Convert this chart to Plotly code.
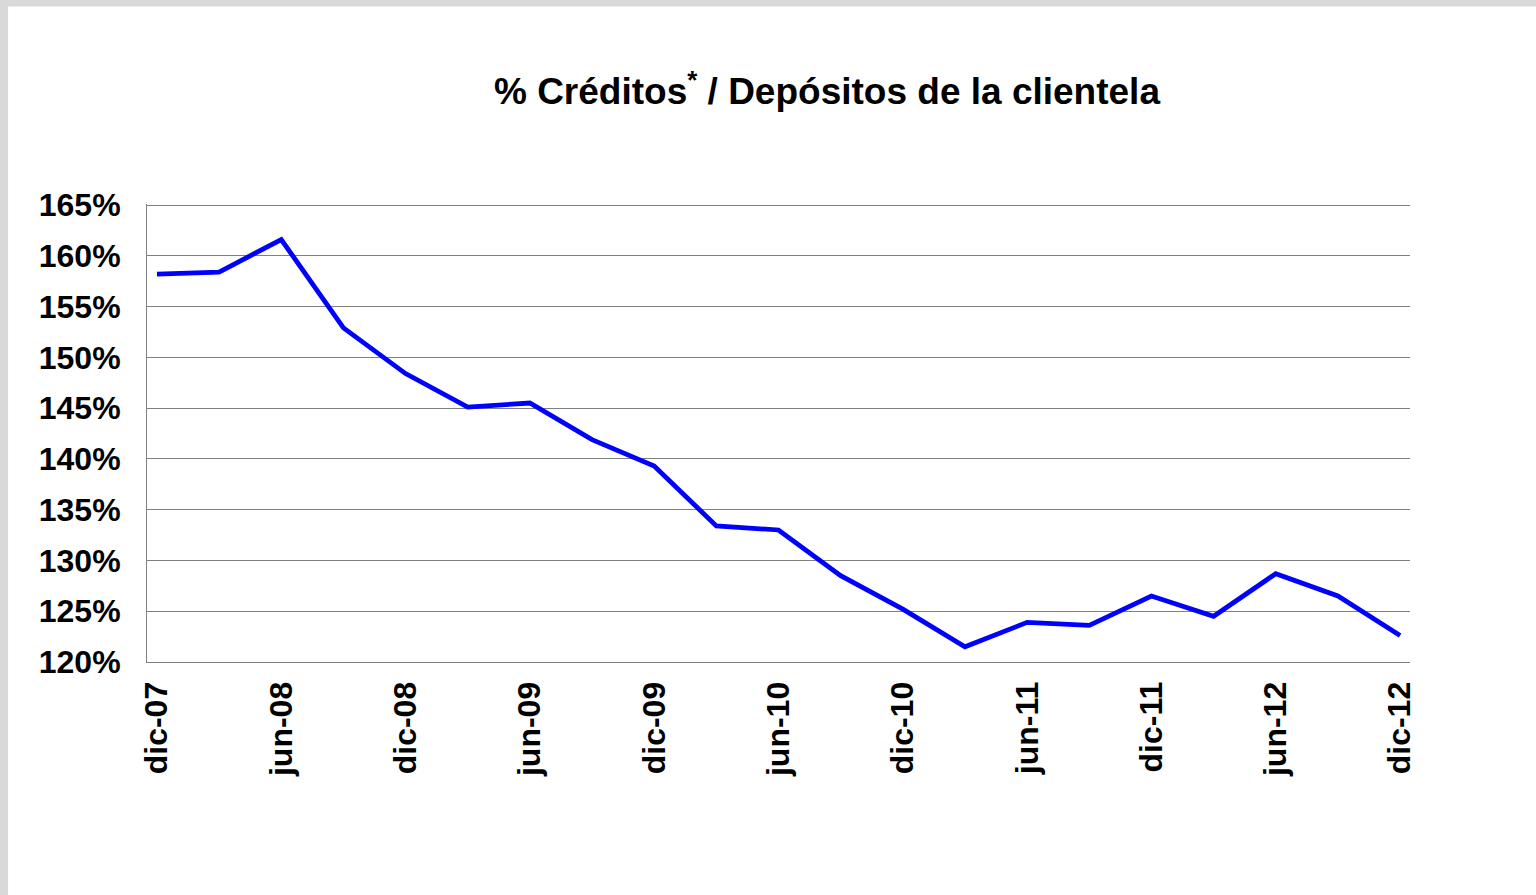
import plotly.graph_objects as go

# trimestres dic-07 .. dic-12
trimestres = ["dic-07", "mar-08", "jun-08", "sep-08", "dic-08", "mar-09", "jun-09",
              "sep-09", "dic-09", "mar-10", "jun-10", "sep-10", "dic-10", "mar-11",
              "jun-11", "sep-11", "dic-11", "mar-12", "jun-12", "sep-12", "dic-12"]
ratio = [158.2, 158.4, 161.6, 152.9, 148.4, 145.1, 145.5,
         141.9, 139.3, 133.4, 133.0, 128.5, 125.2, 121.5,
         123.9, 123.6, 126.5, 124.5, 128.7, 126.5, 122.6]
etiquetas_x = trimestres[::2]
ticks_y = [120, 125, 130, 135, 140, 145, 150, 155, 160, 165]

fuente = "Liberation Sans, Arial, sans-serif"

fig = go.Figure(go.Scatter(
    x=trimestres,
    y=ratio,
    mode="lines",
    line=dict(color="#0000ff", width=4.8),
    hoverinfo="x+y",
))

fig.update_layout(
    width=1536,
    height=895,
    margin=dict(l=147, r=126, t=204, b=233),
    paper_bgcolor="white",
    plot_bgcolor="white",
    showlegend=False,
    title=dict(
        text="<b>% Créditos<sup>*</sup> / Depósitos de la clientela</b>",
        x=0.5384, xanchor="center",
        y=0.898, yanchor="middle", yref="container",
        font=dict(family=fuente, size=37, color="black"),
    ),
    font=dict(family=fuente, color="black"),
)

fig.update_xaxes(
    type="category",
    range=[-0.16, 20.16],
    tickvals=etiquetas_x,
    ticktext=[f"<b>{t}</b>" for t in etiquetas_x],
    tickangle=-90,
    tickfont=dict(size=32, family=fuente, color="black"),
    ticks="",
    ticklabelstandoff=6,
    showgrid=False,
    showline=True, linecolor="#808080", linewidth=1,
    zeroline=False,
)

fig.update_yaxes(
    range=[120, 165.1],
    tickvals=ticks_y,
    ticktext=[f"<b>{v}%</b>" for v in ticks_y],
    tickfont=dict(size=32, family=fuente, color="black"),
    ticks="",
    ticklabelstandoff=19,
    showgrid=True, gridcolor="#808080", gridwidth=1,
    showline=True, linecolor="#808080", linewidth=1,
    zeroline=False,
)

# marco gris del borde superior e izquierdo
fig.add_shape(type="rect", xref="paper", yref="paper",
              x0=-0.2, x1=1.2, y0=1.431, y1=1.6,
              fillcolor="#d9d9d9", line_width=0, layer="below")
fig.add_shape(type="rect", xref="paper", yref="paper",
              x0=-0.2, x1=-0.110, y0=-1.0, y1=1.6,
              fillcolor="#d9d9d9", line_width=0, layer="below")

fig.write_html("out.html", config={"displayModeBar": False},
               post_script="document.body.style.margin='0';")
